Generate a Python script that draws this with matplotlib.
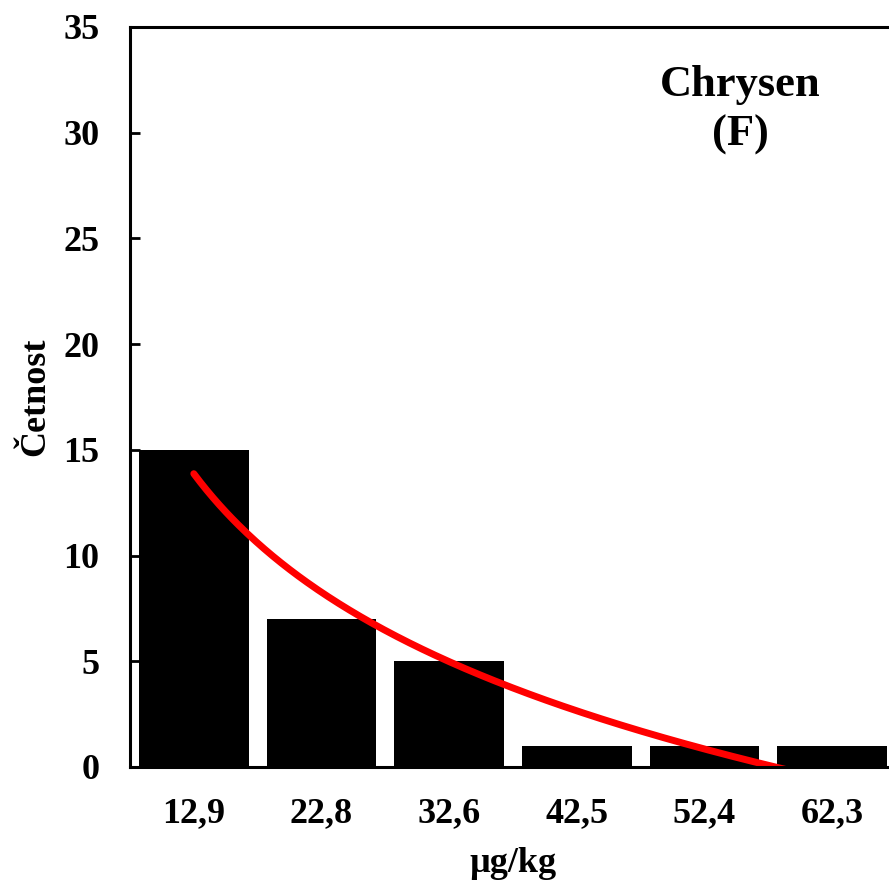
import numpy as np
import matplotlib
matplotlib.use("Agg")
import matplotlib.pyplot as plt

# histogram classes (upper bounds, ug/kg) and counts
classes = ["12,9", "22,8", "32,6", "42,5", "52,4", "62,3"]
counts = [15, 7, 5, 1, 1, 1]

plt.rcParams['font.family'] = ['Liberation Serif', 'DejaVu Serif']
plt.rcParams['font.weight'] = 'bold'

fig = plt.figure(figsize=(8.89, 8.88), dpi=100)
ax = fig.add_axes([0.1462, 0.1363, 0.8616, 0.8333])

pos = np.arange(len(classes))
ax.bar(pos, counts, width=0.86, color='black')

# logarithmic trend line, fitted on the class order 1..n
xn = pos + 1
b, a = np.polyfit(np.log(xn), counts, 1)
xs = np.linspace(1, len(classes), 300)
ys = a + b * np.log(xs)
ax.plot(xs - 1, ys, color='#ff0000', lw=5, solid_capstyle='round')

ax.set_xlim(-0.5, len(classes) - 0.5)
ax.set_ylim(0, 35)
ax.set_yticks(range(0, 36, 5))
ax.set_xticks(pos)
ax.set_xticklabels(classes)

for s in ax.spines.values():
    s.set_linewidth(2.2)
ax.tick_params(axis='y', direction='in', length=7, width=2, labelsize=26, pad=22)
ax.tick_params(axis='x', length=0, labelsize=26, pad=22)

ax.set_xlabel("µg/kg", fontsize=26, fontweight='bold', labelpad=12)
ax.set_ylabel("Četnost", fontsize=26, fontweight='bold', labelpad=8)

ax.text(0.797, 0.948, "Chrysen\n(F)", transform=ax.transAxes, ha='center', va='top',
        fontsize=32, fontweight='bold', linespacing=1.28)

fig.savefig("out.png", dpi=100)
